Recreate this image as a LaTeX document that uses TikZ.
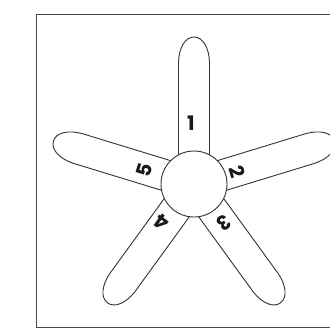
\documentclass[tikz,border=0pt]{standalone}
\usepackage{fontspec}
\setsansfont{Poppins}
\begin{document}
\begin{tikzpicture}[x=1pt,y=-1pt,
  armline/.style={draw=black!80, line width=0.9pt, fill=white},
  lbl/.style={font=\sffamily\bfseries\fontsize{20}{20}\selectfont, text=black!90, inner sep=0pt}]
\useasboundingbox (0,0) rectangle (330,333);
\draw[black!72, line width=1.8pt] (36.5,14.5) rectangle (345,327.5);
\coordinate (c) at (194,184);
\foreach \a in {90,17,-54,-126,163}{
  \begin{scope}[shift={(c)}, rotate=\a]
    \draw[armline] (0,-15.5) -- (122,-15.5) .. controls (136,-15) and (147,-9) .. (147,0)
      .. controls (147,9) and (136,15) .. (122,15.5) -- (0,15.5) -- cycle;
  \end{scope}
}
\node[circle, draw=black!80, line width=0.9pt, fill=white, minimum size=66pt, inner sep=0pt] (hub) at (c) {};
\node[lbl] (l1) at (191,123) {1};
\node[lbl, rotate=-73] (l2) at (237,172) {2};
\node[lbl, rotate=-144] (l3) at (224,223) {3};
\node[lbl, rotate=144] (l4) at (162,222) {4};
\node[lbl, rotate=73] (l5) at (144,170) {5};
\end{tikzpicture}
\end{document}
